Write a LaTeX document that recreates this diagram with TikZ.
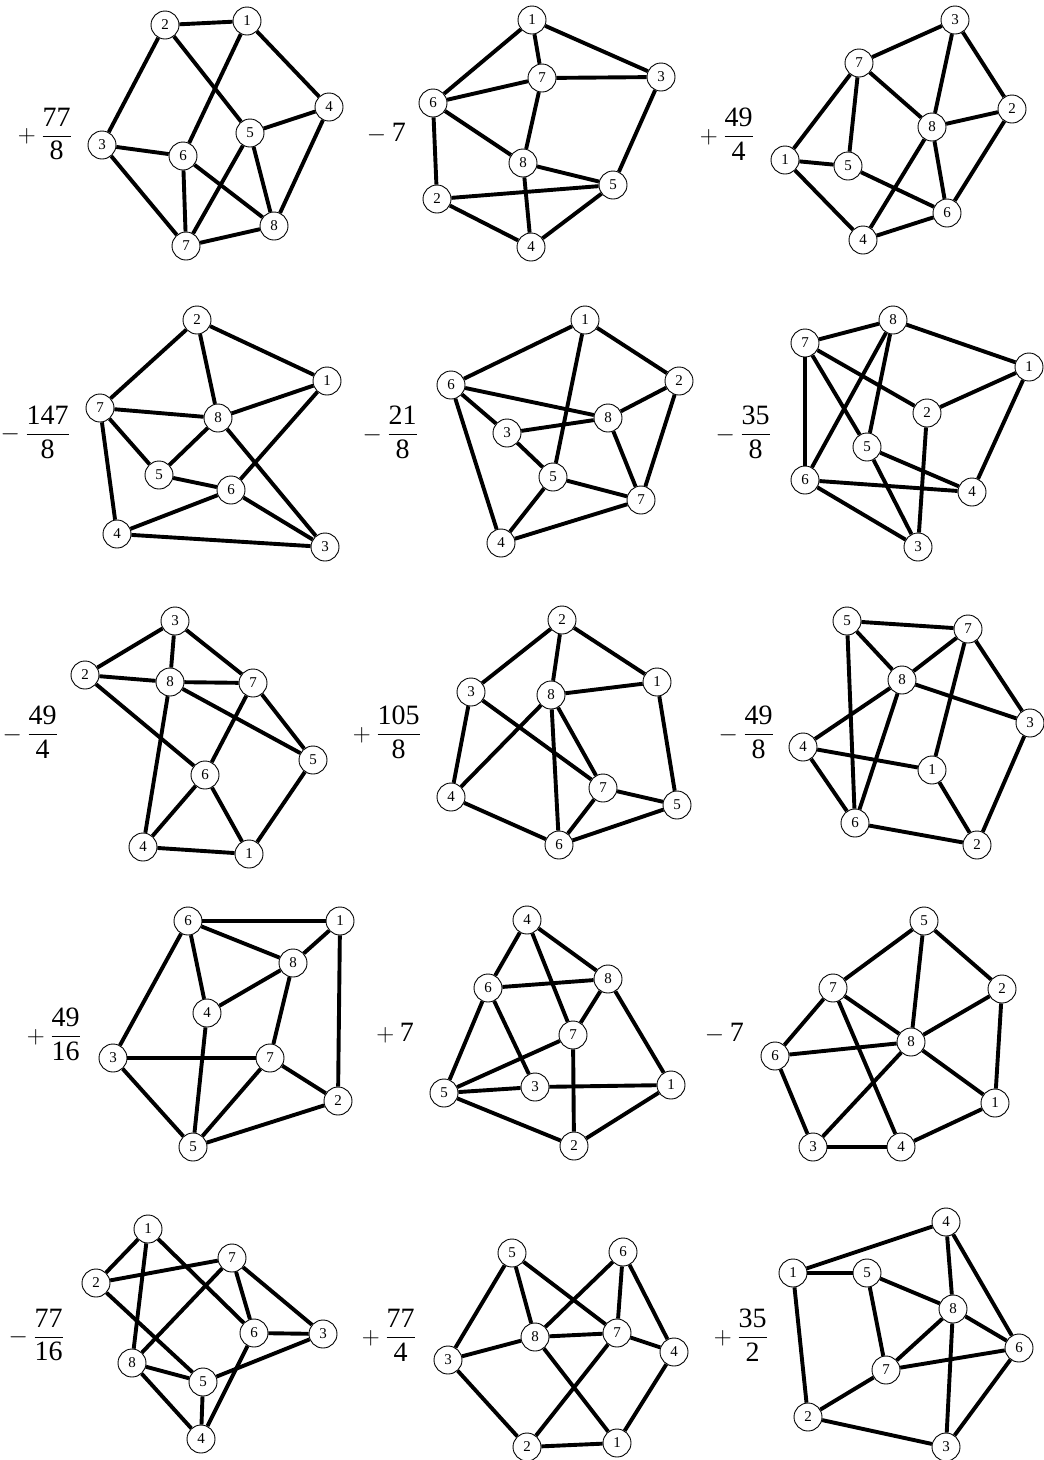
\documentclass[tikz,border=0pt]{standalone}
\usepackage{amsmath}
\usepackage{fontspec}
\setmainfont{Liberation Serif}
\begin{document}
\begin{tikzpicture}[x=1pt,y=-1pt,
  vtx/.style={circle,draw,line width=0.9pt,fill=white,minimum size=28pt,inner sep=0pt,font=\fontsize{15}{15}\selectfont},
  edge/.style={line width=3.9pt},
  coef/.style={anchor=east,inner sep=0pt,font=\fontsize{28}{34}\selectfont}]
\useasboundingbox (0,0) rectangle (1044,1460);
\newcommand{\gnodes}[2]{\foreach \n/\x/\y in {#2} {\node[vtx] (#1\n) at (\x,\y) {\n};}}
\newcommand{\gedges}[2]{\foreach \p/\q in {#2} {\draw[edge] (#1\p) -- (#1\q);}}
% graph a
\gnodes{a}{1/247/21,2/165/25,3/102/145,4/329/107,5/250/133,6/183/156,7/186/246,8/274/226}
\gedges{a}{2/1,2/3,2/5,1/6,1/4,3/6,3/7,4/5,4/8,5/7,5/8,6/7,6/8,7/8}
\node[coef] (ca) at (72,134) {${}+\dfrac{\mbox{77}}{\mbox{8}}$};
% graph b
\gnodes{b}{1/532/20,7/542/78,3/661/77,6/433/103,8/523/163,5/613/185,2/437/199,4/531/247}
\gedges{b}{1/7,1/6,1/3,7/6,7/3,7/8,6/8,6/2,8/5,8/4,3/5,2/5,2/4,4/5}
\node[coef] (cb) at (406,133) {${}-\mbox{7}$};
% graph c
\gnodes{c}{3/955/20,7/859/63,2/1012/109,8/932/127,1/785/160,5/848/166,6/947/213,4/863/240}
\gedges{c}{3/7,3/8,3/2,7/8,7/1,7/5,8/2,8/6,8/4,2/6,1/5,1/4,5/6,4/6}
\node[coef] (cc) at (754,134) {${}+\dfrac{\mbox{49}}{\mbox{4}}$};
% graph d
\gnodes{d}{2/197/320,1/327/381,7/100/408,8/218/418,5/159/475,6/231/490,4/117/534,3/325/547}
\gedges{d}{2/7,2/8,2/1,7/8,7/5,7/4,8/1,8/5,8/3,1/6,5/6,6/4,6/3,4/3}
\node[coef] (cd) at (70,432) {${}-\dfrac{\mbox{147}}{\mbox{8}}$};
% graph e
\gnodes{e}{1/585/320,2/679/381,6/451/385,8/608/418,3/507/433,5/553/477,7/641/500,4/501/543}
\gedges{e}{1/6,1/5,1/2,6/8,6/3,6/4,2/8,2/7,3/8,3/5,8/7,5/7,5/4,4/7}
\node[coef] (ce) at (418,432) {${}-\dfrac{\mbox{21}}{\mbox{8}}$};
% graph f
\gnodes{f}{8/893/320,7/805/343,1/1029/367,2/927/413,5/867/447,6/805/480,4/972/492,3/918/547}
\gedges{f}{7/8,8/1,8/5,8/6,7/6,7/2,7/5,1/2,1/4,2/3,5/4,5/3,6/4,6/3}
\node[coef] (cf) at (771,432) {${}-\dfrac{\mbox{35}}{\mbox{8}}$};
% graph g
\gnodes{g}{3/175/621,2/85/675,8/170/682,7/253/683,5/313/760,6/205/775,4/143/847,1/249/854}
\gedges{g}{3/2,3/8,3/7,2/8,2/6,8/7,8/5,8/4,7/6,7/5,6/4,6/1,5/1,4/1}
\node[coef] (cg) at (58,732) {${}-\dfrac{\mbox{49}}{\mbox{4}}$};
% graph h
\gnodes{h}{2/562/620,1/657/682,3/471/692,8/551/695,7/603/788,5/677/805,4/451/797,6/559/845}
\gedges{h}{2/3,2/8,2/1,8/1,8/4,8/6,8/7,3/7,3/4,1/5,7/5,7/6,6/4,6/5}
\node[coef] (ch) at (421,732) {${}+\dfrac{\mbox{105}}{\mbox{8}}$};
% graph i
\gnodes{i}{5/847/621,7/968/629,8/902/680,3/1030/723,4/803/747,1/932/770,6/855/823,2/977/845}
\gedges{i}{5/7,5/8,5/6,7/8,7/1,7/3,8/3,8/4,8/6,4/1,4/6,1/2,3/2,6/2}
\node[coef] (ci) at (774,732) {${}-\dfrac{\mbox{49}}{\mbox{8}}$};
% graph j
\gnodes{j}{6/188/921,1/340/921,8/293/963,4/207/1013,3/113/1058,7/270/1058,2/338/1101,5/193/1147}
\gedges{j}{6/1,6/8,6/4,6/3,1/8,1/2,8/4,8/7,4/5,3/7,3/5,7/2,7/5,5/2}
\node[coef] (cj) at (81,1034) {${}+\dfrac{\mbox{49}}{\mbox{16}}$};
% graph k
\gnodes{k}{4/527/920,6/488/988,8/608/979,7/573/1035,5/444/1093,3/535/1087,1/671/1085,2/574/1146}
\gedges{k}{4/6,4/7,4/8,6/8,6/5,6/3,8/7,8/1,7/5,7/2,5/3,5/2,3/1,2/1}
\node[coef] (ck) at (414,1033) {${}+\mbox{7}$};
% graph l
\gnodes{l}{5/924/921,7/833/988,2/1002/989,8/911/1042,6/775/1056,1/995/1103,3/813/1147,4/901/1147}
\gedges{l}{5/7,5/2,5/8,7/6,7/8,7/4,6/8,6/3,2/8,2/1,8/1,8/3,3/4,4/1}
\node[coef] (cl) at (744,1033) {${}-\mbox{7}$};
% graph m
\gnodes{m}{1/148/1229,7/232/1258,2/96/1283,6/254/1333,3/323/1334,8/132/1363,5/203/1382,4/201/1439}
\gedges{m}{1/2,1/8,1/6,2/7,2/5,7/8,7/6,7/3,6/3,6/4,3/5,8/5,8/4,5/4}
\node[coef] (cm) at (64,1335) {${}-\dfrac{\mbox{77}}{\mbox{16}}$};
% graph n
\gnodes{n}{5/512/1253,6/623/1252,8/535/1337,7/617/1333,3/448/1360,4/674/1352,2/527/1447,1/617/1443}
\gedges{n}{5/3,5/8,5/7,6/8,6/7,6/4,8/7,8/3,8/1,7/4,7/2,3/2,4/1,2/1}
\node[coef] (cn) at (416,1335) {${}+\dfrac{\mbox{77}}{\mbox{4}}$};
% graph o
\gnodes{o}{4/946/1222,1/793/1273,5/867/1273,8/953/1309,6/1019/1348,7/886/1370,2/808/1417,3/946/1447}
\gedges{o}{4/1,4/8,4/6,1/5,1/2,5/8,5/7,8/7,8/6,8/3,7/6,7/2,2/3,6/3}
\node[coef] (co) at (768,1335) {${}+\dfrac{\mbox{35}}{\mbox{2}}$};
\end{tikzpicture}
\end{document}
